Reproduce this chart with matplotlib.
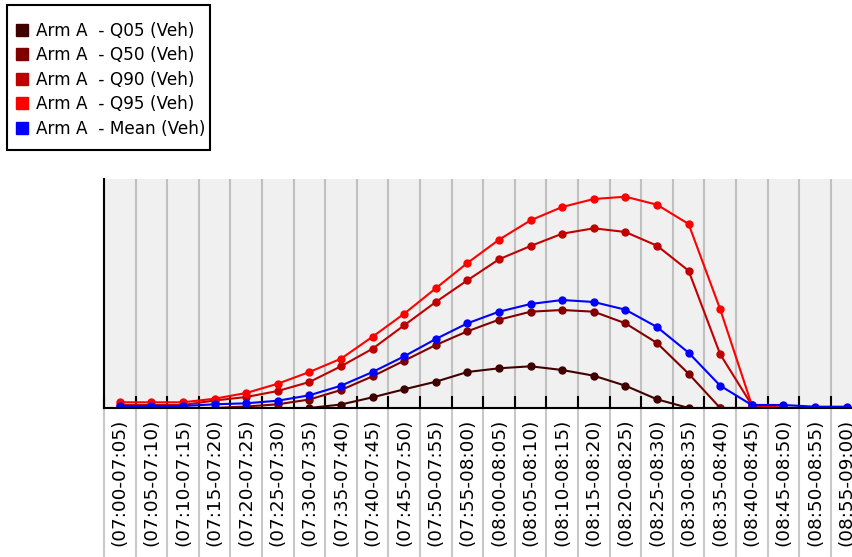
import matplotlib
matplotlib.use("Agg")
import matplotlib.pyplot as plt
import matplotlib.transforms as mtransforms
from matplotlib.lines import Line2D
from matplotlib.patches import Rectangle

periods = ["(07:00-07:05)", "(07:05-07:10)", "(07:10-07:15)", "(07:15-07:20)",
           "(07:20-07:25)", "(07:25-07:30)", "(07:30-07:35)", "(07:35-07:40)",
           "(07:40-07:45)", "(07:45-07:50)", "(07:50-07:55)", "(07:55-08:00)",
           "(08:00-08:05)", "(08:05-08:10)", "(08:10-08:15)", "(08:15-08:20)",
           "(08:20-08:25)", "(08:25-08:30)", "(08:30-08:35)", "(08:35-08:40)",
           "(08:40-08:45)", "(08:45-08:50)", "(08:50-08:55)", "(08:55-09:00)"]

q05 = [0, 0, 0, 0, 0, 0, 0, 0.35, 1.07, 1.87, 2.63, 3.6, 3.97, 4.17, 3.8, 3.23,
       2.23, 0.87, 0, 0, 0, 0, 0, 0]
q50 = [0, 0, 0, 0, 0.15, 0.37, 0.85, 1.8, 3.17, 4.73, 6.3, 7.67, 8.83, 9.63, 9.8, 9.63,
       8.47, 6.5, 3.43, 0, 0, 0, 0, 0]
q90 = [0.3, 0.3, 0.3, 0.75, 1.1, 1.7, 2.6, 4.17, 5.93, 8.27, 10.6, 12.77, 14.87, 16.2,
       17.43, 17.97, 17.6, 16.23, 13.73, 5.37, 0.3, 0, 0, 0]
q95 = [0.57, 0.57, 0.57, 0.93, 1.5, 2.43, 3.6, 4.93, 7.13, 9.43, 11.97, 14.5, 16.83,
       18.77, 20.1, 20.9, 21.13, 20.33, 18.4, 9.87, 0.3, 0, 0, 0]
mean = [0.2, 0.2, 0.2, 0.37, 0.47, 0.73, 1.27, 2.23, 3.6, 5.17, 6.9, 8.47, 9.63, 10.4,
        10.8, 10.6, 9.83, 8.1, 5.53, 2.23, 0.3, 0.3, 0.13, 0.13]

series = [
    ("Arm A  - Q05 (Veh)", q05, "#400000"),
    ("Arm A  - Q50 (Veh)", q50, "#800000"),
    ("Arm A  - Q90 (Veh)", q90, "#c00000"),
    ("Arm A  - Q95 (Veh)", q95, "#ff0000"),
    ("Arm A  - Mean (Veh)", mean, "#0000ff"),
]

fig = plt.figure(figsize=(8.52, 5.57), dpi=100)
W, H = 852, 557
left, right, top, bottom = 104, 862.4, 179, 408
ax = fig.add_axes([left / W, 1 - bottom / H, (right - left) / W, (bottom - top) / H])
ax.set_facecolor("#f0f0f0")

x = list(range(len(periods)))
for label, vals, col in series:
    ax.plot(x, vals, color=col, lw=1.5, marker="o", markersize=5, label=label)

ax.set_xlim(-0.5, len(periods) - 0.5)
ax.set_ylim(0, 22.9)
ax.set_yticks([])

bounds = [i - 0.5 for i in range(len(periods) + 1)]
ax.set_xticks(bounds)
ax.set_xticklabels([])
ax.tick_params(axis="x", which="major", direction="in", length=8.6, width=1.5,
               color="black")
ax.set_xticks(x, minor=True)
ax.set_xticklabels(periods, minor=True, rotation=90, fontsize=13.3)
ax.tick_params(axis="x", which="minor", length=0, pad=7.5)
ax.grid(axis="x", which="major", color="#c0c0c0", lw=1.5)
ax.set_axisbelow(True)

# grid lines continue down through the label area
trans = mtransforms.blended_transform_factory(ax.transData, ax.transAxes)
ax.vlines(bounds, -1, 0, transform=trans, clip_on=False, color="#c8c8c8", lw=1.5,
          zorder=0)

for s in ["top", "right"]:
    ax.spines[s].set_visible(False)
for s in ["left", "bottom"]:
    ax.spines[s].set_linewidth(1.5)
    ax.spines[s].set_zorder(5)

# legend (box drawn separately: tight right padding in the original)
handles = [Line2D([], [], ls="none", marker="s", markersize=8, color=c) for _, _, c in series]
fig.legend(handles, [s[0] for s in series], loc="upper left",
           bbox_to_anchor=(15.5 / W, 1 - 21.5 / H), fontsize=12.2, frameon=False,
           handlelength=0.8, handletextpad=0.41, labelspacing=0.39,
           borderpad=0, borderaxespad=0)
fig.patches.append(Rectangle((7 / W, 1 - 150 / H), 203 / W, 145 / H,
                             transform=fig.transFigure, fill=False,
                             edgecolor="black", lw=1.5))

fig.savefig("out.png", dpi=100)
